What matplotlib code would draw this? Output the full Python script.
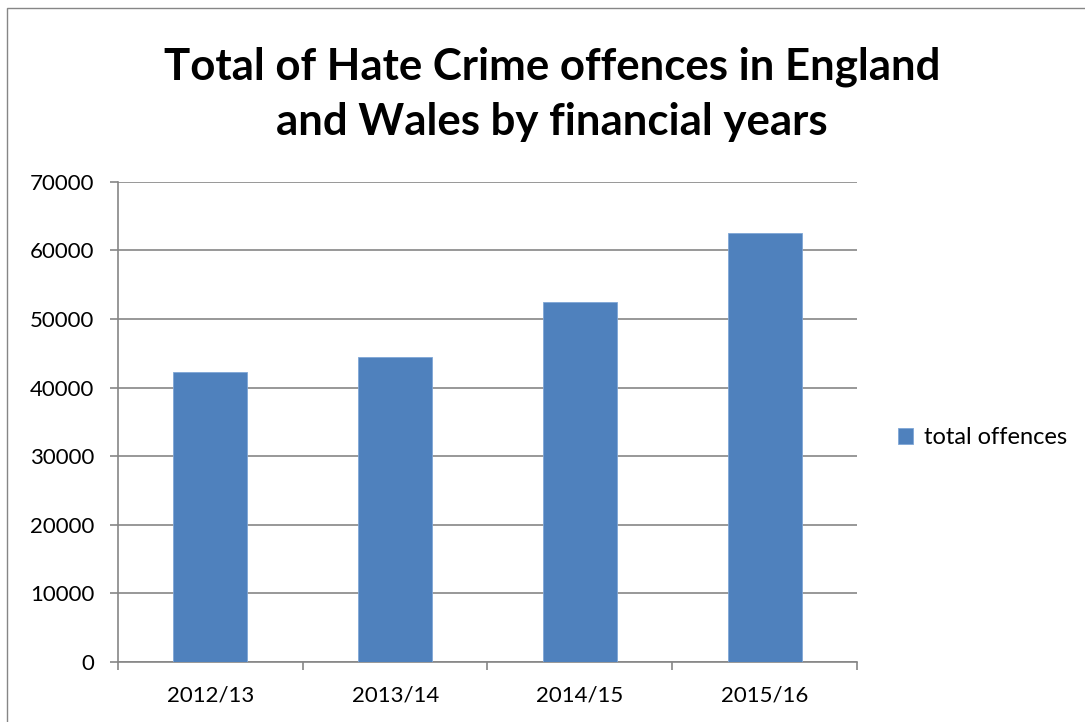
import matplotlib.pyplot as plt
from matplotlib.patches import Rectangle

years = ["2012/13", "2013/14", "2014/15", "2015/16"]
offences = [42236, 44471, 52465, 62518]
series_name = "total offences"
y_ticks = [0, 10000, 20000, 30000, 40000, 50000, 60000, 70000]

plt.rcParams['font.family'] = ['Lato', 'DejaVu Sans']

fig = plt.figure(figsize=(10.85, 7.22), dpi=100)
ax = fig.add_axes([0.1088, 0.0831, 0.681, 0.665])

x = list(range(len(years)))
ax.bar(x, offences, width=0.4, color='#4F81BD', edgecolor='#7FA6D6',
       linewidth=0.6, label=series_name, zorder=3)

ax.set_xlim(-0.5, len(years) - 0.5)
ax.set_ylim(0, 70000)
ax.set_yticks(y_ticks)
ax.set_yticklabels([str(v) for v in y_ticks])
ax.yaxis.grid(True, color='#868686', linewidth=1.2, zorder=0)
ax.set_axisbelow(True)

# category labels in the middle, tick marks on the boundaries
ax.set_xticks(x)
ax.set_xticklabels(years)
ax.set_xticks([i - 0.5 for i in range(len(years) + 1)], minor=True)
ax.tick_params(axis='x', which='major', length=0, pad=17, labelsize=16)
ax.tick_params(axis='x', which='minor', length=6, width=1.2, color='#868686')
ax.tick_params(axis='y', length=6, width=1.2, color='#868686', pad=11, labelsize=16)

for side in ['top', 'right']:
    ax.spines[side].set_visible(False)
for side in ['left', 'bottom']:
    ax.spines[side].set_color('#868686')
    ax.spines[side].set_linewidth(1.2)

fig.text(0.509, 0.870, "Total of Hate Crime offences in England\nand Wales by financial years",
         ha='center', va='center', fontsize=31.5, fontweight='bold', linespacing=1.45)

ax.legend(loc='center left', bbox_to_anchor=(1.027, 0.467), frameon=False,
          fontsize=17, handlelength=0.65, handleheight=0.65, handletextpad=0.45)

# chart frame
fig.patches.append(Rectangle((7 / 1085, -0.1), 1.2, 1.1 - 8 / 722,
                             transform=fig.transFigure, fill=False,
                             edgecolor='#868686', linewidth=1.0))

fig.savefig("out.png", dpi=100)
